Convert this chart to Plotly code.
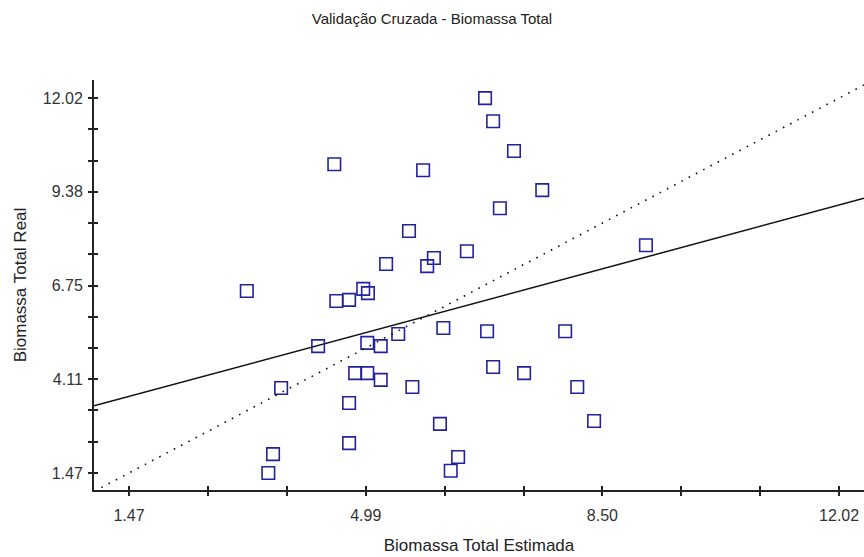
import numpy as np
import plotly.graph_objects as go

# Cross-validation pairs: estimated vs. real total biomass
biomassa_estimada = [
    3.22, 4.52, 5.84, 6.76, 6.88, 7.19, 7.61, 6.98, 5.63, 6.49,
    5.29, 6.00, 5.90, 4.95, 5.02, 4.55, 4.74, 9.15, 4.28, 5.01,
    5.21, 5.47, 6.14, 6.79, 7.95, 4.83, 5.01, 5.21, 5.68, 6.88,
    7.34, 8.13, 3.73, 4.74, 6.09, 4.74, 6.36, 6.25, 3.61, 3.54, 8.38,
]
biomassa_real = [
    6.59, 10.16, 9.99, 12.02, 11.37, 10.53, 9.43, 8.92, 8.28, 7.71,
    7.35, 7.52, 7.29, 6.65, 6.53, 6.31, 6.34, 7.88, 5.04, 5.13,
    5.04, 5.38, 5.55, 5.46, 5.46, 4.28, 4.28, 4.09, 3.89, 4.45,
    4.28, 3.89, 3.86, 3.44, 2.85, 2.31, 1.92, 1.53, 2.00, 1.47, 2.93,
]

# Axis scale
tick_min, tick_max = 1.47, 12.02
x_range = [0.95, 12.39]
y_range = [0.99, 12.53]
x_ticks = list(np.linspace(tick_min, tick_max, 10))
y_ticks = list(np.linspace(tick_min, tick_max, 13))
x_labels = ["1.47", "", "", "4.99", "", "", "8.50", "", "", "12.02"]
y_labels = ["1.47", "", "", "4.11", "", "", "6.75", "", "", "9.38", "", "", "12.02"]

# Least-squares fit of real on estimated
slope, intercept = np.polyfit(biomassa_estimada, biomassa_real, 1)
fit_x = np.array(x_range)
fit_y = intercept + slope * fit_x

FONT = "Liberation Sans, Arial, sans-serif"
BLUE = "#22229e"

fig = go.Figure()

# 1:1 reference line
fig.add_trace(go.Scatter(
    x=x_range, y=x_range, mode="lines", xaxis="x2", yaxis="y2",
    line=dict(color="#111111", width=1.6, dash="1.6px,6.6px"),
    hoverinfo="skip", showlegend=False,
))

# regression line
fig.add_trace(go.Scatter(
    x=fit_x, y=fit_y, mode="lines",
    line=dict(color="#111111", width=1.5),
    hoverinfo="skip", showlegend=False,
))

# observations
fig.add_trace(go.Scatter(
    x=biomassa_estimada, y=biomassa_real, mode="markers",
    marker=dict(symbol="square-open", size=12.5, color=BLUE,
                line=dict(width=1.6, color=BLUE)),
    showlegend=False,
))

tickfont = dict(family=FONT, size=16, color="#333333")
titlefont = dict(family=FONT, size=17, color="#222222")
axis_common = dict(showgrid=False, zeroline=False, showline=True,
                   linecolor="#222222", linewidth=2, ticks="outside",
                   ticklen=4, tickwidth=1.5, tickcolor="#222222",
                   tickfont=tickfont, automargin=False)

fig.update_layout(
    width=864, height=557,
    margin=dict(l=94, r=0, t=80, b=67),
    paper_bgcolor="white", plot_bgcolor="white",
    title=dict(text="Validação Cruzada - Biomassa Total",
               font=dict(family=FONT, size=15, color="#222222"),
               x=0.5, xanchor="center", xref="container",
               y=1 - 19 / 557, yanchor="middle", yref="container"),
    xaxis=dict(range=x_range, tickvals=x_ticks, ticktext=x_labels,
               ticklabelstandoff=6,
               title=dict(text="Biomassa Total Estimada", standoff=16,
                          font=titlefont),
               **axis_common),
    yaxis=dict(range=y_range, tickvals=y_ticks, ticktext=y_labels,
               ticklabelstandoff=2,
               title=dict(text="Biomassa Total Real", standoff=12,
                          font=titlefont),
               **axis_common),
    # inward half of the crossing tick marks
    xaxis2=dict(range=x_range, overlaying="x", anchor="y", side="bottom",
                tickvals=x_ticks, showticklabels=False, ticks="inside",
                ticklen=4, tickwidth=1.5, tickcolor="#222222",
                showgrid=False, zeroline=False, showline=False),
    yaxis2=dict(range=y_range, overlaying="y", anchor="x", side="left",
                tickvals=y_ticks, showticklabels=False, ticks="inside",
                ticklen=4, tickwidth=1.5, tickcolor="#222222",
                showgrid=False, zeroline=False, showline=False),
)

fig.write_html("out.html")
